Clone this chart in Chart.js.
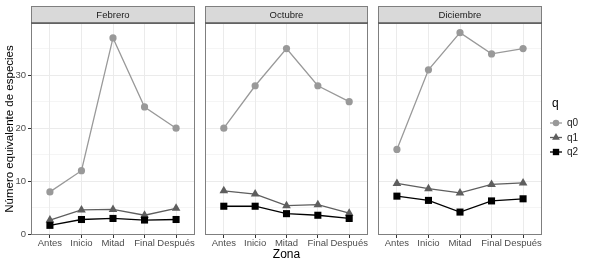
<!DOCTYPE html>
<html>
<head>
<meta charset="utf-8">
<script src="https://cdn.jsdelivr.net/npm/chart.js@4/dist/chart.umd.min.js"></script>
<style>
  html, body { margin: 0; padding: 0; background: #ffffff; }
  #wrap { position: relative; width: 589px; height: 262px; overflow: hidden; background: #fff; }
  canvas { position: absolute; top: 0; }
</style>
</head>
<body>
<div id="wrap">
  <canvas id="c1" width="200" height="262" style="left:0px"></canvas>
  <canvas id="c2" width="173" height="262" style="left:200px"></canvas>
  <canvas id="c3" width="216" height="262" style="left:373px"></canvas>
</div>
<script>
// ---- data ----
const zones = ['Antes', 'Inicio', 'Mitad', 'Final', 'Después'];
const months = ['Febrero', 'Octubre', 'Diciembre'];
const seriesNames = ['q0', 'q1', 'q2'];
const yTicks = [0, 10, 20, 30];

const febQ0 = [8, 12, 37, 24, 20];
const febQ1 = [2.7, 4.6, 4.7, 3.6, 4.9];
const febQ2 = [1.7, 2.8, 3.0, 2.7, 2.8];

const octQ0 = [20, 28, 35, 28, 25];
const octQ1 = [8.2, 7.6, 5.4, 5.6, 4.0];
const octQ2 = [5.3, 5.3, 3.9, 3.6, 3.0];

const dicQ0 = [16, 31, 38, 34, 35];
const dicQ1 = [9.6, 8.6, 7.8, 9.4, 9.7];
const dicQ2 = [7.2, 6.4, 4.2, 6.3, 6.7];

// ---- styling ----
const FONT = "'Liberation Sans', Arial, sans-serif";
const seriesColors = ['#999999', '#5e5e5e', '#000000'];
const seriesPoint = ['circle', 'triangle', 'rect'];
const seriesRadius = [3.6, 5, 5];
const BORDER = '#7f7f7f';
const Y_MIN = -0.12, Y_MAX = 39.82;

function makeDatasets(arrs) {
  return arrs.map((vals, s) => ({
    label: seriesNames[s],
    data: zones.map((z, i) => ({ x: i + 1, y: vals[i] })),
    borderColor: seriesColors[s],
    backgroundColor: seriesColors[s],
    pointBackgroundColor: seriesColors[s],
    pointBorderColor: seriesColors[s],
    pointStyle: seriesPoint[s],
    pointRadius: seriesRadius[s],
    pointBorderWidth: 0,
    borderWidth: 1.3,
    tension: 0,
    order: 3 - s
  }));
}

const panelPlugin = {
  id: 'panelPlugin',
  afterDraw(chart, args, opts) {
    const { ctx, chartArea: a } = chart;
    ctx.save();
    const L = Math.round(a.left), T = Math.round(a.top);
    const W = Math.round(a.right - a.left), H = Math.round(a.bottom - a.top);
    // panel border
    ctx.strokeStyle = BORDER;
    ctx.lineWidth = 1;
    ctx.strokeRect(L + 0.5, T + 0.5, W - 1, H - 1);
    // strip
    const sTop = 6;
    ctx.fillStyle = '#d9d9d9';
    ctx.fillRect(L, sTop, W, T - sTop);
    ctx.strokeRect(L + 0.5, sTop + 0.5, W - 1, T - sTop);
    ctx.strokeStyle = '#595959';
    ctx.lineWidth = 1.5;
    ctx.beginPath();
    ctx.moveTo(L, T);
    ctx.lineTo(L + W, T);
    ctx.stroke();
    ctx.fillStyle = '#1a1a1a';
    ctx.font = '9.5px ' + FONT;
    ctx.textAlign = 'center';
    ctx.textBaseline = 'middle';
    ctx.fillText(opts.title, (a.left + a.right) / 2, (sTop + a.top) / 2 + 0.5);
    // legend
    if (opts.legend) {
      const lx = opts.legendX;
      ctx.textAlign = 'left';
      ctx.fillStyle = '#000';
      ctx.font = '12px ' + FONT;
      ctx.fillText('q', lx + 2, 104);
      chart.data.datasets.forEach((ds, i) => {
        const y = 123 + i * 14.5;
        ctx.strokeStyle = ds.borderColor;
        ctx.lineWidth = 1.3;
        ctx.beginPath();
        ctx.moveTo(lx, y);
        ctx.lineTo(lx + 12, y);
        ctx.stroke();
        ctx.fillStyle = ds.backgroundColor;
        Chart.helpers.drawPoint(ctx, { pointStyle: ds.pointStyle, radius: ds.pointRadius * 0.9, rotation: 0, borderWidth: 0 }, lx + 6, y);
        ctx.fillStyle = '#1a1a1a';
        ctx.font = '10px ' + FONT;
        ctx.fillText(ds.label, lx + 17, y + 0.5);
      });
    }
    ctx.restore();
  }
};

function makeChart(id, title, arrs, opt) {
  const first = opt.first;
  return new Chart(document.getElementById(id), {
    type: 'line',
    data: { datasets: makeDatasets(arrs) },
    plugins: [panelPlugin],
    options: {
      responsive: false,
      animation: false,
      devicePixelRatio: 1,
      layout: { padding: { top: 23, left: opt.padLeft, right: opt.padRight, bottom: 0 } },
      plugins: {
        legend: { display: false },
        tooltip: { enabled: false },
        panelPlugin: { title: title, legend: !!opt.legend, legendX: opt.legendX || 0 }
      },
      scales: {
        x: {
          type: 'linear',
          min: 0.4,
          max: 5.6,
          afterFit: (s) => { s.height = 27; },
          border: { display: false },
          grid: {
            color: '#ebebeb',
            lineWidth: 1,
            drawTicks: true,
            tickLength: 3,
            tickColor: '#333333'
          },
          ticks: {
            stepSize: 1,
            includeBounds: false,
            autoSkip: false,
            maxRotation: 0,
            padding: 0,
            color: '#4d4d4d',
            font: { family: FONT, size: 9.5 },
            callback: (v) => (Number.isInteger(v) && v >= 1 && v <= zones.length) ? zones[v - 1] : ''
          },
          title: {
            display: !!opt.xTitle,
            text: 'Zona',
            color: '#000000',
            font: { family: FONT, size: 12 },
            padding: { top: 0, bottom: 0 }
          }
        },
        y: {
          type: 'linear',
          min: Y_MIN,
          max: Y_MAX,
          afterFit: (s) => { s.width = first ? 31 : 0; },
          afterBuildTicks: (s) => {
            const t = [];
            for (let v = 0; v <= 35; v += 5) t.push({ value: v });
            s.ticks = t;
          },
          border: { display: false },
          grid: {
            color: (c) => '#ebebeb',
            lineWidth: (c) => (c.tick && c.tick.value % 10 === 0) ? 1 : 0.5,
            drawTicks: first,
            tickLength: 3,
            tickColor: (c) => (c.tick && c.tick.value % 10 === 0) ? '#333333' : 'rgba(0,0,0,0)'
          },
          ticks: {
            display: first,
            padding: 2,
            color: '#4d4d4d',
            font: { family: FONT, size: 9.5 },
            callback: (v) => yTicks.includes(v) ? String(v) : ''
          },
          title: {
            display: first,
            text: 'Número equivalente de especies',
            color: '#000000',
            font: { family: FONT, size: 11.5 },
            padding: { top: 3, bottom: 0 }
          }
        }
      }
    }
  });
}

makeChart('c1', months[0], [febQ0, febQ1, febQ2], { first: true, padLeft: 0, padRight: 2 });
makeChart('c2', months[1], [octQ0, octQ1, octQ2], { first: false, padLeft: 2, padRight: 2, xTitle: true });
makeChart('c3', months[2], [dicQ0, dicQ1, dicQ2], { first: false, padLeft: 2, padRight: 47, legend: true, legendX: 177 });
</script>
</body>
</html>
